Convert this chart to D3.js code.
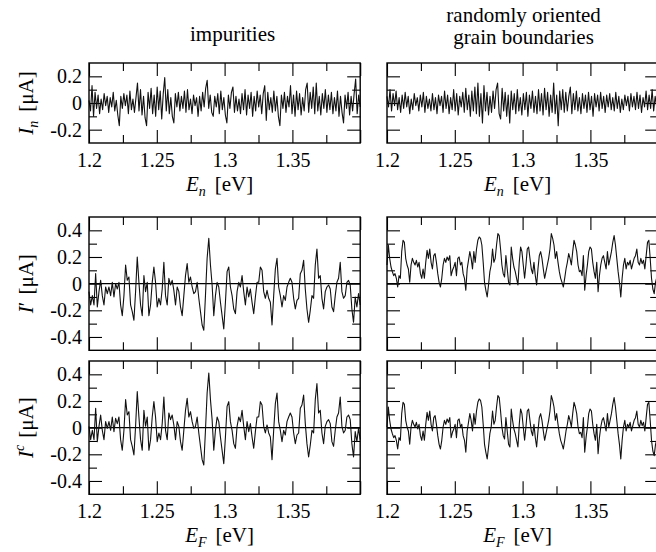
<!DOCTYPE html>
<html>
<head>
<meta charset="utf-8">
<script src="https://cdn.jsdelivr.net/npm/d3@7"></script>
<style>
  body { margin: 0; background: #fff; }
</style>
</head>
<body>
<div id="chart"></div>
<script>
// energy axis (values on a uniform grid from 1.2 to 1.4 eV)
const eStart = 1.2;
const eEnd = 1.4;
const xMajor = [1.2, 1.25, 1.3, 1.35, 1.4];
const xMinor = [1.225, 1.275, 1.325, 1.375];
const xLabels = [1.2, 1.25, 1.3, 1.35];

const colTitles = [["impurities"], ["randomly oriented", "grain boundaries"]];

// I_n vs E_n, impurities
const inImp = [
  0.02, -0.06, 0.13, -0.1, 0.08, -0.04, 0.06, -0.08, 0.03, -0.05,
  0.07, -0.02, 0.05, -0.07, 0.04, -0.03, 0.08, -0.06, 0.02, -0.09,
  -0.17, 0.05, -0.04, 0.07, -0.02, 0.06, -0.08, 0.09, -0.05, 0.03,
  -0.07, 0.04, 0.15, -0.06, 0.1, -0.09, 0.05, -0.11, -0.17, 0.08,
  -0.04, 0.11, -0.08, 0.06, -0.1, 0.12, -0.05, 0.09, -0.12, 0.07,
  0.19, -0.06, 0.1, -0.08, 0.04, -0.1, -0.15, 0.07, -0.03, 0.08,
  -0.06, 0.05, -0.04, 0.09, -0.07, 0.1, -0.05, 0.03, -0.08, 0.06,
  -0.02, 0.04, -0.1, 0.05, -0.06, 0.08, -0.03, 0.11, 0.17, -0.04,
  0.06, -0.07, -0.1, 0.05, -0.03, 0.07, -0.08, 0.09, -0.05, 0.04,
  -0.09, -0.15, 0.06, -0.04, 0.08, 0.12, -0.07, 0.05, -0.06, 0.03,
  -0.08, 0.07, -0.05, 0.1, -0.09, 0.06, -0.04, 0.08, -0.1, 0.05,
  -0.06, 0.09, -0.03, 0.06, -0.08, 0.07, 0.13, -0.13, 0.08, -0.05,
  0.04, -0.07, 0.09, -0.06, 0.05, -0.1, -0.17, 0.06, -0.04, 0.08,
  -0.07, 0.05, -0.03, 0.13, -0.08, 0.06, -0.1, 0.09, -0.05, 0.07,
  -0.09, 0.04, -0.06, 0.1, 0.15, -0.07, 0.08, -0.04, 0.12, -0.08,
  0.15, -0.06, 0.05, -0.09, 0.07, -0.04, 0.1, -0.07, 0.06, -0.05,
  0.08, -0.08, 0.04, -0.06, 0.09, -0.1, 0.05, -0.07, -0.15, 0.06,
  -0.04, 0.08, -0.09, 0.05, -0.06, 0.07, 0.18, -0.08, 0.06, -0.03
];

// I_n vs E_n, grain boundaries
const inGb = [
  0.05, -0.03, 0.1, -0.06, 0.07, -0.02, 0.09, -0.05, 0.04, -0.07,
  0.06, -0.04, 0.08, -0.03, 0.05, -0.08, 0.03, -0.05, 0.07, -0.02,
  0.04, -0.06, 0.06, -0.03, 0.08, -0.07, 0.05, -0.04, 0.03, -0.06,
  0.07, -0.05, 0.04, -0.08, 0.06, -0.02, 0.05, -0.07, 0.09, -0.04,
  0.06, -0.08, 0.04, -0.05, 0.1, -0.06, 0.07, -0.09, 0.05, -0.03,
  0.08, -0.07, 0.11, -0.05, 0.06, -0.1, 0.09, -0.06, 0.12, -0.08,
  0.15, -0.1, 0.07, -0.15, 0.13, -0.06, 0.08, -0.09, 0.05, -0.07,
  0.09, -0.04, 0.1, 0.15, -0.08, -0.12, 0.11, -0.06, 0.08, -0.1,
  0.06, -0.15, 0.09, -0.05, 0.07, -0.08, 0.1, -0.06, 0.04, -0.09,
  0.07, -0.05, 0.08, -0.1, 0.06, -0.04, 0.09, -0.07, 0.05, -0.08,
  0.1, -0.06, 0.07, -0.09, 0.11, -0.05, 0.08, -0.1, 0.06, -0.07,
  0.15, -0.08, 0.06, -0.17, 0.09, -0.05, 0.1, -0.07, 0.08, -0.06,
  0.05, 0.12, -0.08, 0.07, -0.05, 0.09, -0.06, 0.04, -0.08, 0.07,
  -0.04, 0.06, -0.07, 0.08, -0.05, 0.05, -0.1, 0.07, -0.03, 0.06,
  -0.06, 0.08, -0.04, 0.05, -0.07, 0.06, -0.03, 0.07, -0.05, 0.04,
  -0.06, 0.08, -0.04, 0.05, -0.07, 0.03, -0.05, 0.06, -0.02, 0.05,
  -0.06, 0.07, -0.03, 0.05, -0.05, 0.08, -0.04, 0.06, -0.07, 0.04,
  -0.03, 0.09, -0.05, 0.06, -0.04, 0.1, -0.06, 0.05, -0.03, 0.04
];

// I' vs E_F, impurities
const ipImp = [
  -0.06, -0.16, -0.09, -0.16, 0.075, -0.175, -0.06, 0.025, -0.09, -0.16,
  -0.025, -0.075, -0.025, -0.09, 0.01, -0.1, 0, -0.04, 0.01, -0.16,
  -0.24, -0.09, 0.14, 0.025, 0.05, -0.16, -0.21, -0.275, -0.06, 0.2,
  0.01, -0.16, -0.24, 0.06, -0.06, 0.01, -0.24, -0.16, 0.01, 0.125,
  0.01, -0.175, -0.11, -0.16, -0.04, 0.16, -0.09, -0.16, 0.04, -0.01,
  0.025, -0.05, -0.16, -0.025, -0.06, -0.175, -0.24, -0.09, 0.06, 0.15,
  0.01, 0.05, -0.025, -0.075, -0.06, 0.01, -0.11, -0.21, -0.31, -0.35,
  -0.09, 0.19, 0.34, 0.14, -0.01, -0.24, -0.09, 0.01, -0.025, -0.14,
  -0.24, -0.34, -0.14, 0.09, 0.125, -0.025, -0.09, -0.19, -0.225, -0.06,
  0.01, -0.025, 0.06, -0.06, -0.16, -0.025, -0.1, -0.04, -0.14, -0.225,
  -0.1, 0.01, 0.01, 0.125, 0.1, -0.06, -0.11, -0.05, -0.11, -0.14,
  -0.31, -0.09, 0.11, 0.19, -0.025, -0.09, -0.175, -0.09, -0.125, -0.025,
  0.01, 0.04, 0.01, -0.11, -0.19, -0.125, -0.11, 0.075, 0.1, 0.175,
  -0.04, -0.19, -0.29, -0.2, -0.09, -0.11, 0.14, 0.26, 0.04, 0.06,
  -0.11, -0.19, -0.06, -0.025, -0.01, -0.04, -0.175, -0.21, -0.09, 0.01,
  0.04, 0.16, -0.06, -0.11, -0.09, 0.01, 0.025, -0.01, -0.19, -0.29,
  -0.1, -0.175, -0.075, -0.16
];

// I' vs E_F, grain boundaries
const ipGb = [
  0.14, 0.29, 0.19, 0.125, 0.09, 0.06, 0.075, 0.04, -0.025, 0.06,
  0.04, 0.24, 0.325, 0.31, 0.19, 0.14, 0.11, 0.01, 0.14, 0.19,
  0.16, 0.14, 0.175, 0.125, 0.16, 0.075, 0.04, 0.11, 0.04, 0.16,
  0.25, 0.19, 0.26, 0.16, 0.11, 0.21, 0.225, 0.16, 0.075, 0.01,
  -0.025, 0.04, 0.14, 0.19, 0.16, 0.2, 0.175, 0.21, 0.06, 0.1,
  0.125, 0.16, 0.06, 0.19, 0.2, 0.14, 0.16, 0.075, 0.04, -0.05,
  0.11, 0.175, 0.24, 0.19, 0.11, 0.24, 0.16, 0.26, 0.325, 0.35,
  0.34, 0.29, 0.16, 0.01, -0.05, -0.1, -0.01, 0.09, 0.14, 0.26,
  0.16, 0.19, 0.29, 0.375, 0.36, 0.26, 0.14, 0.075, 0.05, 0.21,
  0.11, 0.01, -0.01, 0.275, 0.19, 0.125, 0.09, 0.04, -0.01, 0.16,
  0.275,
  0.24, 0.14, 0.04, 0.14, 0.26, 0.275, 0.19, 0.11, 0.075, 0.16,
  0.06, -0.01, 0.11, 0.21, 0.24, 0.19, 0.11, 0.04, 0.09, 0.14,
  0.19, 0.26, 0.375, 0.34, 0.29, 0.19, 0.24, 0.16, 0.09, 0.04,
  0.01, -0.025, 0.04, 0.11, 0.16, 0.225, 0.19, 0.14, 0.24, 0.325,
  0.29, 0.24, 0.14, 0.09, 0.1, 0.06, 0.21, -0.05, 0.06, 0.14,
  0.24, 0.275, 0.26, 0.16, 0.09, 0.04, 0.16, -0.06, 0.06, 0.14,
  0.19, 0.21, 0.16, 0.11, 0.24, 0.14, 0.19, 0.24, 0.31, 0.36,
  0.29, 0.19, 0.09, 0.01, -0.1, 0.04, 0.14, 0.19, 0.11, 0.16,
  0.14, 0.175, 0.11, 0.15, 0.19, 0.21, 0.26, 0.16, 0.14, 0.19,
  0.15, 0.175, 0.11, 0.21, 0.31, 0.325, 0.19, 0.04, -0.04, -0.075,
  0.01, 0.05, 0.1
];

// I^c vs E_F, impurities
const icImp = [
  0.01, -0.09, -0.02, -0.09, 0.145, -0.105, 0.01, 0.095, -0.02, -0.09,
  0.045, -0.005, 0.045, -0.02, 0.08, -0.03, 0.07, 0.03, 0.08, -0.09,
  -0.17, -0.02, 0.21, 0.095, 0.12, -0.09, -0.14, -0.205, 0.01, 0.27,
  0.08, -0.09, -0.17, 0.13, 0.01, 0.08, -0.17, -0.09, 0.08, 0.195,
  0.08, -0.105, -0.04, -0.09, 0.03, 0.23, -0.02, -0.09, 0.11, 0.06,
  0.095, 0.02, -0.09, 0.045, 0.01, -0.105, -0.17, -0.02, 0.13, 0.22,
  0.08, 0.12, 0.045, -0.005, 0.01, 0.08, -0.04, -0.14, -0.24, -0.28,
  -0.02, 0.26, 0.41, 0.21, 0.06, -0.17, -0.02, 0.08, 0.045, -0.07,
  -0.17, -0.27, -0.07, 0.16, 0.195, 0.045, -0.02, -0.12, -0.155, 0.01,
  0.08, 0.045, 0.13, 0.01, -0.09, 0.045, -0.03, 0.03, -0.07, -0.155,
  -0.03, 0.08, 0.08, 0.195, 0.17, 0.01, -0.04, 0.02, -0.04, -0.07,
  -0.24, -0.02, 0.18, 0.26, 0.045, -0.02, -0.105, -0.02, -0.055, 0.045,
  0.08, 0.11, 0.08, -0.04, -0.12, -0.055, -0.04, 0.145, 0.17, 0.245,
  0.03, -0.12, -0.22, -0.13, -0.02, -0.04, 0.21, 0.33, 0.11, 0.13,
  -0.04, -0.12, 0.01, 0.045, 0.06, 0.03, -0.105, -0.14, -0.02, 0.08,
  0.11, 0.23, 0.01, -0.04, -0.02, 0.08, 0.095, 0.06, -0.12, -0.22,
  -0.03, -0.105, -0.005, -0.09
];

// I^c vs E_F, grain boundaries
const icGb = [
  0.005, 0.155, 0.055, -0.01, -0.045, -0.075, -0.06, -0.095, -0.16, -0.075,
  -0.095, 0.105, 0.19, 0.175, 0.055, 0.005, -0.025, -0.125, 0.005, 0.055,
  0.025, 0.005, 0.04, -0.01, 0.025, -0.06, -0.095, -0.025, -0.095, 0.025,
  0.115, 0.055, 0.125, 0.025, -0.025, 0.075, 0.09, 0.025, -0.06, -0.125,
  -0.16, -0.095, 0.005, 0.055, 0.025, 0.065, 0.04, 0.075, -0.075, -0.035,
  -0.01, 0.025, -0.075, 0.055, 0.065, 0.005, 0.025, -0.06, -0.095, -0.185,
  -0.025, 0.04, 0.105, 0.055, -0.025, 0.105, 0.025, 0.125, 0.19, 0.215,
  0.205, 0.155, 0.025, -0.125, -0.185, -0.235, -0.145, -0.045, 0.005, 0.125,
  0.025, 0.055, 0.155, 0.24, 0.225, 0.125, 0.005, -0.06, -0.085, 0.075,
  -0.025, -0.125, -0.145, 0.14, 0.055, -0.01, -0.045, -0.095, -0.145, 0.025,
  0.14,
  0.105, 0.005, -0.095, 0.005, 0.125, 0.14, 0.055, -0.025, -0.06, 0.025,
  -0.075, -0.145, -0.025, 0.075, 0.105, 0.055, -0.025, -0.095, -0.045, 0.005,
  0.055, 0.125, 0.24, 0.205, 0.155, 0.055, 0.105, 0.025, -0.045, -0.095,
  -0.125, -0.16, -0.095, -0.025, 0.025, 0.09, 0.055, 0.005, 0.105, 0.19,
  0.155, 0.105, 0.005, -0.045, -0.035, -0.075, 0.075, -0.185, -0.075, 0.005,
  0.105, 0.14, 0.125, 0.025, -0.045, -0.095, 0.025, -0.195, -0.075, 0.005,
  0.055, 0.075, 0.025, -0.025, 0.105, 0.005, 0.055, 0.105, 0.175, 0.225,
  0.155, 0.055, -0.045, -0.125, -0.235, -0.095, 0.005, 0.055, -0.025, 0.025,
  0.005, 0.04, -0.025, 0.015, 0.055, 0.075, 0.125, 0.025, 0.005, 0.055,
  0.015, 0.04, -0.025, 0.075, 0.175, 0.19, 0.055, -0.095, -0.175, -0.21,
  -0.125, -0.085, -0.035
];

// Layout
const width = 656, height = 552;
const serif = "Liberation Serif";
const plotW = 271.2;
const cols = [{ left: 89 }, { left: 387 }];
const rows = [
  { top: 63, h: 80, dom: [-0.3, 0.3], major: [-0.2, 0, 0.2], minor: [-0.1, 0.1],
    zero: false, xText: true, ylab: "n", xsub: "n", series: [inImp, inGb] },
  { top: 217, h: 133.3, dom: [-0.5, 0.5], major: [-0.4, -0.2, 0, 0.2, 0.4], minor: [-0.3, -0.1, 0.1, 0.3],
    zero: true, xText: false, ylab: "prime", series: [ipImp, ipGb] },
  { top: 361, h: 133.3, dom: [-0.5, 0.5], major: [-0.4, -0.2, 0, 0.2, 0.4], minor: [-0.3, -0.1, 0.1, 0.3],
    zero: true, xText: true, ylab: "c", xsub: "F", series: [icImp, icGb] }
];

const svg = d3.select("#chart").append("svg")
  .attr("width", width)
  .attr("height", height)
  .style("font-family", serif);

const x = d3.scaleLinear().domain([eStart, eEnd]).range([0, plotW]);

function styleAxis(sel) {
  sel.attr("font-family", serif);
  sel.select(".domain").remove();
  sel.selectAll(".tick line").attr("stroke", "#000").attr("stroke-width", 1.1);
  sel.selectAll(".tick text")
    .attr("font-size", 20)
    .style("font-family", serif)
    .attr("fill", "#000");
}

rows.forEach((row, r) => {
  const y = d3.scaleLinear().domain(row.dom).range([row.h, 0]);

  cols.forEach((col, c) => {
    const g = svg.append("g").attr("transform", "translate(" + col.left + "," + row.top + ")");

    // ticks on all four sides
    g.append("g").attr("transform", "translate(0," + row.h + ")")
      .call(d3.axisBottom(x).tickValues(xMajor).tickSize(-13).tickPadding(10)
        .tickFormat(d => (row.xText && xLabels.includes(d)) ? String(d) : ""))
      .call(styleAxis);
    g.append("g").attr("transform", "translate(0," + row.h + ")")
      .call(d3.axisBottom(x).tickValues(xMinor).tickSize(-8).tickFormat(""))
      .call(styleAxis);
    g.append("g")
      .call(d3.axisTop(x).tickValues(xMajor).tickSize(-13).tickFormat(""))
      .call(styleAxis);
    g.append("g")
      .call(d3.axisTop(x).tickValues(xMinor).tickSize(-8).tickFormat(""))
      .call(styleAxis);
    g.append("g")
      .call(d3.axisLeft(y).tickValues(row.major).tickSize(-13).tickPadding(7)
        .tickFormat(d => c === 0 ? String(d) : ""))
      .call(styleAxis);
    g.append("g")
      .call(d3.axisLeft(y).tickValues(row.minor).tickSize(-8).tickFormat(""))
      .call(styleAxis);
    g.append("g").attr("transform", "translate(" + plotW + ",0)")
      .call(d3.axisRight(y).tickValues(row.major).tickSize(-13).tickFormat(""))
      .call(styleAxis);
    g.append("g").attr("transform", "translate(" + plotW + ",0)")
      .call(d3.axisRight(y).tickValues(row.minor).tickSize(-8).tickFormat(""))
      .call(styleAxis);

    if (row.zero) {
      g.append("line")
        .attr("x1", 0).attr("x2", plotW)
        .attr("y1", y(0)).attr("y2", y(0))
        .attr("stroke", "#000").attr("stroke-width", 1.2);
    }

    // data line
    const vals = row.series[c];
    const step = (eEnd - eStart) / (vals.length - 1);
    const line = d3.line()
      .x((d, i) => x(eStart + i * step))
      .y(d => y(d));
    g.append("path")
      .datum(vals)
      .attr("fill", "none")
      .attr("stroke", "#111")
      .attr("stroke-width", 1.1)
      .attr("stroke-linejoin", "round")
      .attr("d", line);

    // frame
    g.append("rect")
      .attr("width", plotW).attr("height", row.h)
      .attr("fill", "none").attr("stroke", "#000").attr("stroke-width", 1.4);

    // x axis title
    if (row.xText) {
      const t = g.append("text")
        .attr("x", plotW / 2 - 5)
        .attr("y", row.h + 48)
        .attr("text-anchor", "middle")
        .attr("font-size", 21);
      t.append("tspan").attr("font-style", "italic").text("E");
      t.append("tspan").attr("font-style", "italic").attr("font-size", 14)
        .attr("dy", 5).text(row.xsub);
      t.append("tspan").attr("dy", -5).attr("dx", 9).text("[eV]");
    }

    // y axis title
    if (c === 0) {
      const t = g.append("text")
        .attr("transform", "translate(-56," + row.h / 2 + ") rotate(-90)")
        .attr("text-anchor", "middle")
        .attr("font-size", 21);
      t.append("tspan").attr("font-style", "italic").text("I");
      if (row.ylab === "n") {
        t.append("tspan").attr("font-style", "italic").attr("font-size", 14)
          .attr("dy", 5).text("n");
        t.append("tspan").attr("dy", -5).attr("dx", 9).text("[μA]");
      } else if (row.ylab === "c") {
        t.append("tspan").attr("font-style", "italic").attr("font-size", 14)
          .attr("dy", -9).text("c");
        t.append("tspan").attr("dy", 9).attr("dx", 7).text("[μA]");
      } else {
        t.append("tspan").text("′");
        t.append("tspan").attr("dx", 7).text("[μA]");
      }
    }
  });
});

// column titles
colTitles.forEach((lines, c) => {
  const cx = cols[c].left + plotW / 2 + (c === 0 ? 8 : 1);
  const base = c === 0 ? 41 : 22;
  lines.forEach((s, i) => {
    svg.append("text")
      .attr("x", cx)
      .attr("y", base + i * 22)
      .attr("text-anchor", "middle")
      .attr("font-size", 21)
      .text(s);
  });
});
</script>
</body>
</html>
